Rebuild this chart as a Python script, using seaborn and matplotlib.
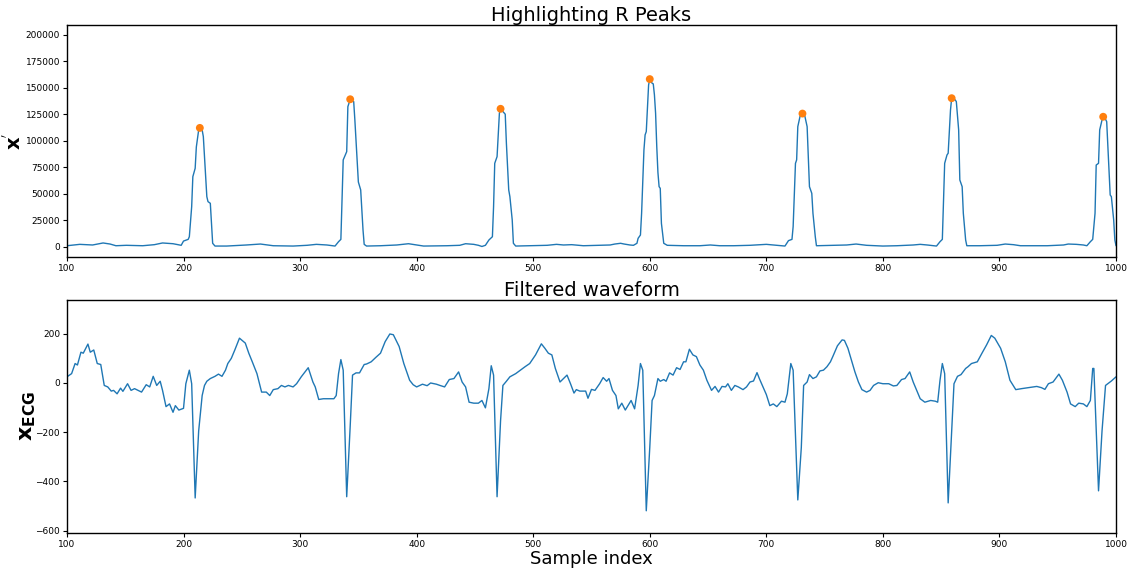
import matplotlib
matplotlib.use("Agg")
import matplotlib.pyplot as plt
import seaborn as sns
import pandas as pd

# Squared-derivative signal x' (sample index, amplitude)
xp_samples = [
    100, 111, 122, 131, 137, 142, 151, 165, 175, 182, 191, 198, 200, 204, 205, 207, 208, 210,
    211, 213, 214, 216, 217, 220, 221, 223, 224, 225, 227, 237, 254, 266, 277, 294, 306, 314,
    323, 330, 333, 335, 337, 340, 341, 343, 346, 347, 350, 352, 354, 355, 357, 369, 383, 393,
    400, 406, 426, 437, 442, 449, 453, 456, 459, 462, 465, 466, 467, 469, 471, 472, 474, 476,
    477, 479, 480, 482, 483, 485, 497, 512, 520, 526, 533, 543, 555, 566, 570, 575, 578, 583,
    586, 589, 590, 592, 593, 595, 596, 597, 599, 600, 602, 603, 604, 605, 606, 607, 608, 609,
    610, 612, 615, 629, 643, 652, 660, 672, 686, 700, 709, 716, 719, 722, 723, 725, 726, 727,
    729, 731, 733, 735, 737, 739, 740, 742, 743, 757, 769, 777, 786, 800, 812, 826, 832, 838,
    846, 849, 851, 853, 855, 856, 858, 859, 862, 863, 865, 866, 868, 869, 871, 872, 883, 898,
    905, 912, 918, 941, 955, 959, 966, 972, 975, 978, 980, 982, 983, 985, 986, 988, 989, 991,
    992, 993, 995, 996, 998, 999, 1000,
]
xp_values = [
    900, 2200, 1600, 3500, 2500, 900, 1300, 900, 1900, 3500, 2800, 1300, 5300, 6900, 9400, 37700, 66000, 73900,
    94000, 110000, 112000, 110000, 103800, 47200, 42500, 40900, 22000, 3200, 600, 600, 1600, 2500, 900, 600, 1300, 2200,
    1600, 600, 4700, 6900, 81800, 89600, 132000, 139000, 136800, 119500, 61000, 53500, 15700, 2200, 600, 900, 1600, 2800,
    1600, 600, 900, 1300, 2800, 2200, 1300, 200, 1300, 6300, 9400, 37700, 78600, 84900, 125800, 130000, 127400, 124900,
    97500, 53500, 47200, 25200, 3200, 600, 900, 1300, 2200, 1600, 1900, 900, 1300, 1600, 2500, 3200, 2500, 1600,
    1300, 3200, 7900, 11000, 31500, 91200, 105400, 108500, 152500, 158000, 154100, 153500, 143100, 125800, 94400, 70000, 56600, 55000,
    22000, 3200, 1300, 900, 900, 1600, 900, 900, 1300, 2200, 1300, 600, 5700, 6900, 18900, 78600, 81800, 113200,
    123300, 125500, 123300, 113200, 56600, 50300, 31500, 9400, 900, 1300, 1600, 2500, 1300, 600, 900, 1600, 2200, 1600,
    600, 4700, 6900, 78600, 86500, 88100, 128900, 140000, 138400, 136800, 110100, 62900, 56600, 31500, 6300, 900, 900, 1300,
    2500, 1900, 900, 900, 1600, 2500, 2200, 1600, 900, 4700, 6900, 31500, 77000, 78600, 110100, 119500, 122500, 120100,
    117900, 94400, 48700, 47200, 25200, 6300, 900,
]

# Detected R-peak locations (sample index)
r_peaks = [214, 343, 472, 600, 731, 859, 989]

# Band-pass filtered ECG (sample index, amplitude)
ecg_samples = [
    100, 104, 107, 109, 112, 114, 118, 120, 123, 126, 129, 132, 135, 138, 140, 143, 146, 148,
    152, 155, 158, 161, 164, 168, 171, 174, 177, 180, 182, 185, 188, 191, 193, 196, 200, 202,
    205, 207, 210, 213, 216, 218, 220, 223, 227, 230, 233, 236, 238, 241, 244, 248, 253, 256,
    259, 263, 267, 271, 274, 277, 281, 284, 287, 290, 294, 297, 301, 307, 311, 313, 316, 320,
    329, 331, 333, 335, 337, 340, 343, 345, 348, 351, 355, 357, 361, 365, 369, 373, 377, 380,
    385, 389, 394, 397, 400, 405, 409, 412, 417, 420, 424, 428, 432, 436, 439, 442, 445, 449,
    453, 456, 459, 462, 464, 466, 469, 472, 474, 477, 480, 485, 489, 493, 497, 502, 505, 507,
    510, 513, 516, 519, 523, 526, 529, 532, 535, 537, 540, 545, 547, 550, 553, 557, 560, 563,
    565, 568, 571, 573, 576, 579, 584, 587, 590, 592, 594, 597, 600, 602, 604, 607, 609, 612,
    614, 617, 620, 623, 626, 629, 631, 634, 637, 640, 643, 646, 649, 653, 656, 659, 662, 665,
    667, 670, 673, 676, 680, 683, 686, 689, 692, 694, 697, 700, 703, 706, 709, 713, 716, 718,
    721, 723, 727, 730, 732, 735, 737, 740, 743, 746, 749, 752, 755, 757, 761, 765, 767, 770,
    773, 776, 779, 782, 786, 789, 792, 796, 800, 805, 809, 812, 816, 819, 823, 826, 829, 832,
    836, 841, 845, 847, 849, 851, 853, 856, 859, 861, 864, 867, 871, 873, 876, 881, 885, 889,
    893, 896, 901, 905, 909, 914, 919, 925, 932, 936, 939, 942, 946, 951, 954, 958, 961, 965,
    968, 972, 975, 978, 980, 981, 983, 985, 988, 991, 993, 996, 1000,
]
ecg_values = [
    25, 38, 79, 73, 125, 121, 158, 125, 134, 79, 75, -10, -16, -33, -30, -44, -21, -34,
    -3, -30, -23, -30, -37, -7, -16, 27, -10, 7, -30, -96, -85, -119, -92, -110, -103, -3,
    52, -3, -467, -195, -51, -10, 7, 18, 27, 36, 27, 52, 79, 100, 134, 182, 162, 121,
    86, 38, -37, -37, -51, -27, -23, -10, -16, -10, -16, -3, 25, 62, 4, -16, -67, -64,
    -64, -51, 38, 95, 52, -462, -175, 32, 41, 41, 75, 77, 86, 104, 121, 168, 199, 196,
    148, 79, 11, -7, -16, -5, -11, 0, -5, -10, -16, 14, 18, 45, 4, -16, -78, -82,
    -82, -71, -101, -23, 70, 32, -462, -153, -10, 7, 25, 38, 52, 66, 79, 114, 141, 159,
    141, 121, 114, 59, 4, 18, 32, -3, -41, -27, -33, -33, -62, -26, -30, -3, 22, 7,
    18, -30, -51, -105, -82, -110, -71, -105, -10, 79, 52, -519, -263, -71, -51, 18, 7, 14,
    7, 41, 32, 62, 55, 86, 86, 137, 114, 107, 73, 52, 11, -30, -14, -37, -14, -16,
    -3, -30, -10, -16, -27, -16, 4, 8, 42, 18, -14, -47, -92, -85, -96, -74, -78, -44,
    79, 52, -475, -263, -10, 4, 34, 18, 25, 49, 52, 66, 86, 107, 151, 175, 173, 141,
    93, 45, 4, -27, -37, -30, -10, 1, -3, -3, -12, -10, 14, 18, 45, 4, -30, -64,
    -78, -71, -74, -78, 11, 79, 38, -487, -195, -3, 27, 34, 59, 66, 79, 86, 121, 155,
    193, 182, 141, 86, 11, -27, -23, -19, -14, -19, -26, -3, 4, 36, 11, -37, -85, -96,
    -82, -85, -96, -71, 59, 59, -195, -438, -195, -10, -3, 8, 25,
]

sns.set_style("ticks")
plt.rcParams["font.family"] = ["DejaVu Sans"]
plt.rcParams.update({
    "text.color": "black",
    "axes.labelcolor": "black",
    "xtick.color": "black",
    "ytick.color": "black",
})

xp_df = pd.DataFrame({"sample": xp_samples, "value": xp_values})
ecg_df = pd.DataFrame({"sample": ecg_samples, "value": ecg_values})
peak_df = xp_df[xp_df["sample"].isin(r_peaks)]

blue = "#1f77b4"
orange = "#ff7f0e"

fig = plt.figure(figsize=(11.29, 5.71), dpi=100)
ax1 = fig.add_axes([0.0593, 0.5494, 0.9292, 0.4068])
ax2 = fig.add_axes([0.0593, 0.0671, 0.9292, 0.4075])

sns.lineplot(data=xp_df, x="sample", y="value", ax=ax1, color=blue, linewidth=1.0)
sns.scatterplot(data=peak_df, x="sample", y="value", ax=ax1, color=orange,
                s=32, edgecolor="none", zorder=3)
ax1.set_xlim(100, 1000)
ax1.set_ylim(-10000, 209000)
ax1.set_yticks(range(0, 200001, 25000))
ax1.set_title("Highlighting R Peaks", fontsize=14, pad=3)
ax1.set_xlabel("")
ax1.set_ylabel(r"$\mathbf{x^{'}}$", fontsize=14)
ax1.yaxis.set_label_coords(-0.040, 0.5)

sns.lineplot(data=ecg_df, x="sample", y="value", ax=ax2, color=blue, linewidth=1.0)
ax2.set_xlim(100, 1000)
ax2.set_ylim(-608, 337)
ax2.set_yticks([-600, -400, -200, 0, 200])
ax2.set_title("Filtered waveform", fontsize=14, pad=3)
ax2.set_xlabel("Sample index", fontsize=13, labelpad=1)
ax2.set_ylabel(r"$\mathbf{x_{ECG}}$", fontsize=16)
ax2.yaxis.set_label_coords(-0.028, 0.5)

for ax in (ax1, ax2):
    for side in ("top", "right", "left", "bottom"):
        ax.spines[side].set_visible(True)
        ax.spines[side].set_linewidth(1.0)
        ax.spines[side].set_color("black")
    ax.tick_params(axis="both", labelsize=6.5, length=3, width=0.8, pad=2)

fig.savefig("out.png", dpi=100)
